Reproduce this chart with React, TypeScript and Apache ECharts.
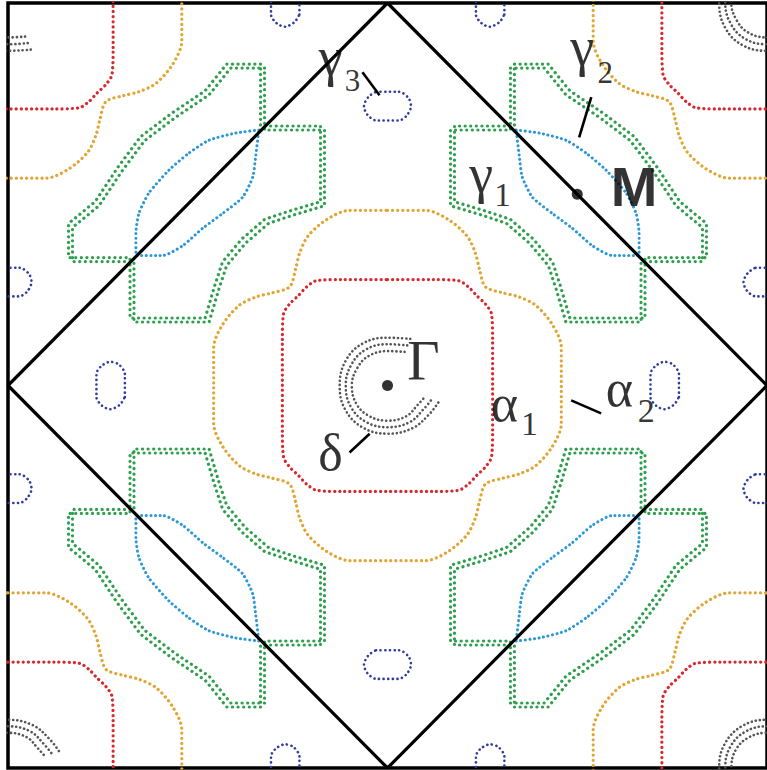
import React, { useEffect, useRef } from "react";
import * as echarts from "echarts";

type P = [number, number];

// Fermi-surface contours, in units of pi/a (kx to the right, ky upwards)
// α1 (red) and α2 (gold): one octant, from the ky axis to the diagonal
const ALPHA1_OCTANT: P[] = [[0, 0.277], [0.12, 0.277], [0.187, 0.274], [0.213, 0.258], [0.235, 0.235]];
const ALPHA2_OCTANT: P[] = [[0, 0.458], [0.1, 0.458], [0.16, 0.434], [0.21, 0.39], [0.232, 0.345], [0.242, 0.305], [0.258, 0.258]];

// δ (grey) pocket around Γ: outer, middle and inner edges of the band
const DELTA_OUTER: P[] = [[0.06, 0.122], [0, 0.125], [-0.065, 0.11], [-0.11, 0.065], [-0.126, 0], [-0.112, -0.062], [-0.065, -0.11], [0, -0.126], [0.065, -0.112], [0.11, -0.075], [0.137, -0.04]];
const DELTA_MID: P[] = [[0.052, 0.105], [0, 0.108], [-0.057, 0.094], [-0.095, 0.055], [-0.11, 0], [-0.097, -0.055], [-0.057, -0.095], [0, -0.109], [0.058, -0.096], [0.095, -0.062], [0.118, -0.034]];
const DELTA_INNER: P[] = [[0.045, 0.088], [0, 0.09], [-0.05, 0.077], [-0.08, 0.045], [-0.094, 0], [-0.082, -0.048], [-0.048, -0.08], [0, -0.092], [0.05, -0.08], [0.08, -0.05], [0.1, -0.028]];

// γ1 (light blue) lens around M = (0.5, 0.5)
const GAMMA1_LENS: P[] = [[0.339, 0.668], [0.4, 0.66], [0.471, 0.641], [0.524, 0.607], [0.576, 0.563], [0.629, 0.503], [0.655, 0.45], [0.663, 0.398], [0.663, 0.34], [0.592, 0.34], [0.539, 0.366], [0.487, 0.411], [0.434, 0.45], [0.382, 0.492], [0.355, 0.545], [0.347, 0.602], [0.339, 0.668]];

// γ2 (green) contour around M = (0.5, 0.5)
const GAMMA2_LOOP: P[] = [[0.324, 0.83], [0.413, 0.83], [0.47, 0.76], [0.56, 0.7], [0.64, 0.64], [0.7, 0.56], [0.76, 0.47], [0.83, 0.413], [0.83, 0.324], [0.668, 0.324], [0.668, 0.166], [0.47, 0.166], [0.445, 0.25], [0.424, 0.313], [0.374, 0.372], [0.313, 0.424], [0.25, 0.445], [0.166, 0.47], [0.166, 0.668], [0.324, 0.668], [0.324, 0.83]];

// γ3 (dark blue) small pocket, horizontal orientation, relative to its centre
const GAMMA3_OVAL: P[] = [[-0.03, 0.038], [0.03, 0.038], [0.055, 0.022], [0.062, 0], [0.05, -0.025], [0.03, -0.037], [-0.03, -0.037], [-0.053, -0.022], [-0.062, 0], [-0.05, 0.025], [-0.03, 0.038]];
const GAMMA3_CENTERS_H: P[] = [[0, 0.73], [0, -0.73], [-1, 0.27], [-1, -0.27], [1, 0.27], [1, -0.27]];
const GAMMA3_CENTERS_V: P[] = [[0.73, 0], [-0.73, 0], [0.27, 1], [-0.27, 1], [0.27, -1], [-0.27, -1]];

const ZONE_CORNERS: P[] = [[1, 1], [-1, 1], [-1, -1], [1, -1]];
const M_SIGNS: P[] = [[1, 1], [-1, 1], [-1, -1], [1, -1]];
const BZ_BOUNDARY: P[] = [[0, 1], [1, 0], [0, -1], [-1, 0], [0, 1]];
const HIGH_SYMMETRY: P[] = [[0, 0], [0.5, 0.5]];

// leader lines of the labels
const LEADERS: P[][] = [
  [[-0.066, 0.819], [-0.021, 0.759]],
  [[0.537, 0.754], [0.505, 0.649]],
  [[-0.1, -0.175], [-0.047, -0.126]],
  [[0.484, -0.039], [0.563, -0.073]],
];

// labels: text, anchor (centre) in k-space, size, family
const LABELS: { t: string; at: P; size: number; sans?: boolean }[] = [
  { t: "γ", at: [-0.15, 0.859], size: 54 },
  { t: "3", at: [-0.092, 0.798], size: 31 },
  { t: "γ", at: [0.513, 0.885], size: 54 },
  { t: "2", at: [0.574, 0.819], size: 31 },
  { t: "γ", at: [0.247, 0.552], size: 54 },
  { t: "1", at: [0.303, 0.497], size: 33 },
  { t: "M", at: [0.65, 0.521], size: 56, sans: true },
  { t: "Γ", at: [0.095, 0.063], size: 56 },
  { t: "δ", at: [-0.15, -0.175], size: 52 },
  { t: "α", at: [0.308, -0.047], size: 52 },
  { t: "1", at: [0.374, -0.1], size: 34 },
  { t: "α", at: [0.611, -0.008], size: 52 },
  { t: "2", at: [0.682, -0.066], size: 34 },
];

const COLORS = {
  alpha1: "#d7282d",
  alpha2: "#e1a533",
  delta: "#555555",
  gamma1: "#2a97d6",
  gamma2: "#2f9f4e",
  gamma3: "#2d3c9e",
};

function octantToLoop(oct: P[]): P[] {
  const q: P[] = [...oct, ...oct.slice(0, -1).reverse().map(([x, y]) => [y, x] as P)];
  const q4 = q.slice().reverse().map(([x, y]) => [x, -y] as P);
  const q3 = q.map(([x, y]) => [-x, -y] as P);
  const q2 = q.slice().reverse().map(([x, y]) => [-x, y] as P);
  return [...q, ...q4.slice(1), ...q3.slice(1), ...q2.slice(1)];
}
const shift = (pts: P[], [dx, dy]: P): P[] => pts.map(([x, y]) => [x + dx, y + dy] as P);
const mirror = (pts: P[], [sx, sy]: P): P[] => pts.map(([x, y]) => [x * sx, y * sy] as P);

function contour(data: P[], color: string, smooth: number | boolean, width = 3.2, gap = 5, extra: any = {}): any {
  return {
    type: "line",
    data,
    symbol: "none",
    smooth,
    silent: true,
    clip: true,
    lineStyle: { color, width, type: [0.1, gap], cap: "round", ...extra },
    z: 2,
  };
}

const SERIF = "'Liberation Serif', 'Times New Roman', serif";
const SANS = "'Liberation Sans', Arial, sans-serif";

export default function App() {
  const ref = useRef<HTMLDivElement>(null);
  useEffect(() => {
    document.body.style.margin = "0";
    if (!ref.current) return;
    const chart = echarts.init(ref.current, undefined, { renderer: "svg" });

    const series: any[] = [];
    const a1 = octantToLoop(ALPHA1_OCTANT);
    const a2 = octantToLoop(ALPHA2_OCTANT);
    const centres: P[] = [[0, 0], ...ZONE_CORNERS];
    centres.forEach((c) => {
      series.push(contour(shift(a1, c), COLORS.alpha1, 0.3));
      series.push(contour(shift(a2, c), COLORS.alpha2, 0.3));
    });
    // δ at Γ and its copies in the corners
    [DELTA_OUTER, DELTA_MID, DELTA_INNER].forEach((ring) => {
      series.push(contour(ring, COLORS.delta, 0.4, 2.6, 4));
      ZONE_CORNERS.forEach((c) => series.push(contour(shift(mirror(ring, [1, -1]), c), COLORS.delta, 0.4, 2.6, 4)));
    });
    // γ1, γ2 around the four M points (γ2 is a broad band: shadow copy gives it width)
    M_SIGNS.forEach((s) => {
      series.push(
        contour(mirror(GAMMA2_LOOP, s), COLORS.gamma2, false, 3.2, 5.5, {
          shadowColor: COLORS.gamma2,
          shadowBlur: 0,
          shadowOffsetX: 4 * s[0],
          shadowOffsetY: -4 * s[1],
        })
      );
      series.push(contour(mirror(GAMMA1_LENS, s), COLORS.gamma1, 0.2, 3, 4.5));
    });
    // γ3 pockets
    GAMMA3_CENTERS_H.forEach((c) => series.push(contour(shift(GAMMA3_OVAL, c), COLORS.gamma3, 0.3, 2.6, 4.5)));
    const vOval = GAMMA3_OVAL.map(([x, y]) => [y, x] as P);
    GAMMA3_CENTERS_V.forEach((c) => series.push(contour(shift(vOval, c), COLORS.gamma3, 0.3, 2.6, 4.5)));

    // Brillouin-zone boundary
    series.push({
      type: "line",
      data: BZ_BOUNDARY,
      symbol: "none",
      silent: true,
      lineStyle: { color: "#000", width: 3.2 },
      z: 5,
    });
    LEADERS.forEach((seg) =>
      series.push({
        type: "line",
        data: seg,
        symbol: "none",
        silent: true,
        lineStyle: { color: "#000", width: 2.6 },
        z: 5,
      })
    );
    series.push({
      type: "scatter",
      data: HIGH_SYMMETRY,
      symbol: "circle",
      symbolSize: 11,
      itemStyle: { color: "#000" },
      silent: true,
      z: 6,
    });
    series.push({
      type: "scatter",
      data: LABELS.map((l) => ({
        value: l.at,
        label: {
          show: true,
          position: "inside",
          formatter: l.t,
          fontSize: l.size,
          fontFamily: l.sans ? SANS : SERIF,
          fontWeight: l.sans ? "bold" : "normal",
          color: "#000",
        },
      })),
      symbolSize: 1,
      itemStyle: { color: "rgba(0,0,0,0)" },
      labelLayout: { hideOverlap: false },
      silent: true,
      z: 7,
    });

    chart.setOption({
      animation: false,
      backgroundColor: "#fff",
      grid: {
        left: 8,
        top: 3,
        width: 760,
        height: 765,
        show: true,
        borderColor: "#000",
        borderWidth: 3.5,
        backgroundColor: "transparent",
      },
      xAxis: { type: "value", min: -1, max: 1, show: false },
      yAxis: { type: "value", min: -1, max: 1, show: false },
      series,
    });
    return () => chart.dispose();
  }, []);
  return <div ref={ref} style={{ width: 767, height: 770 }} />;
}
